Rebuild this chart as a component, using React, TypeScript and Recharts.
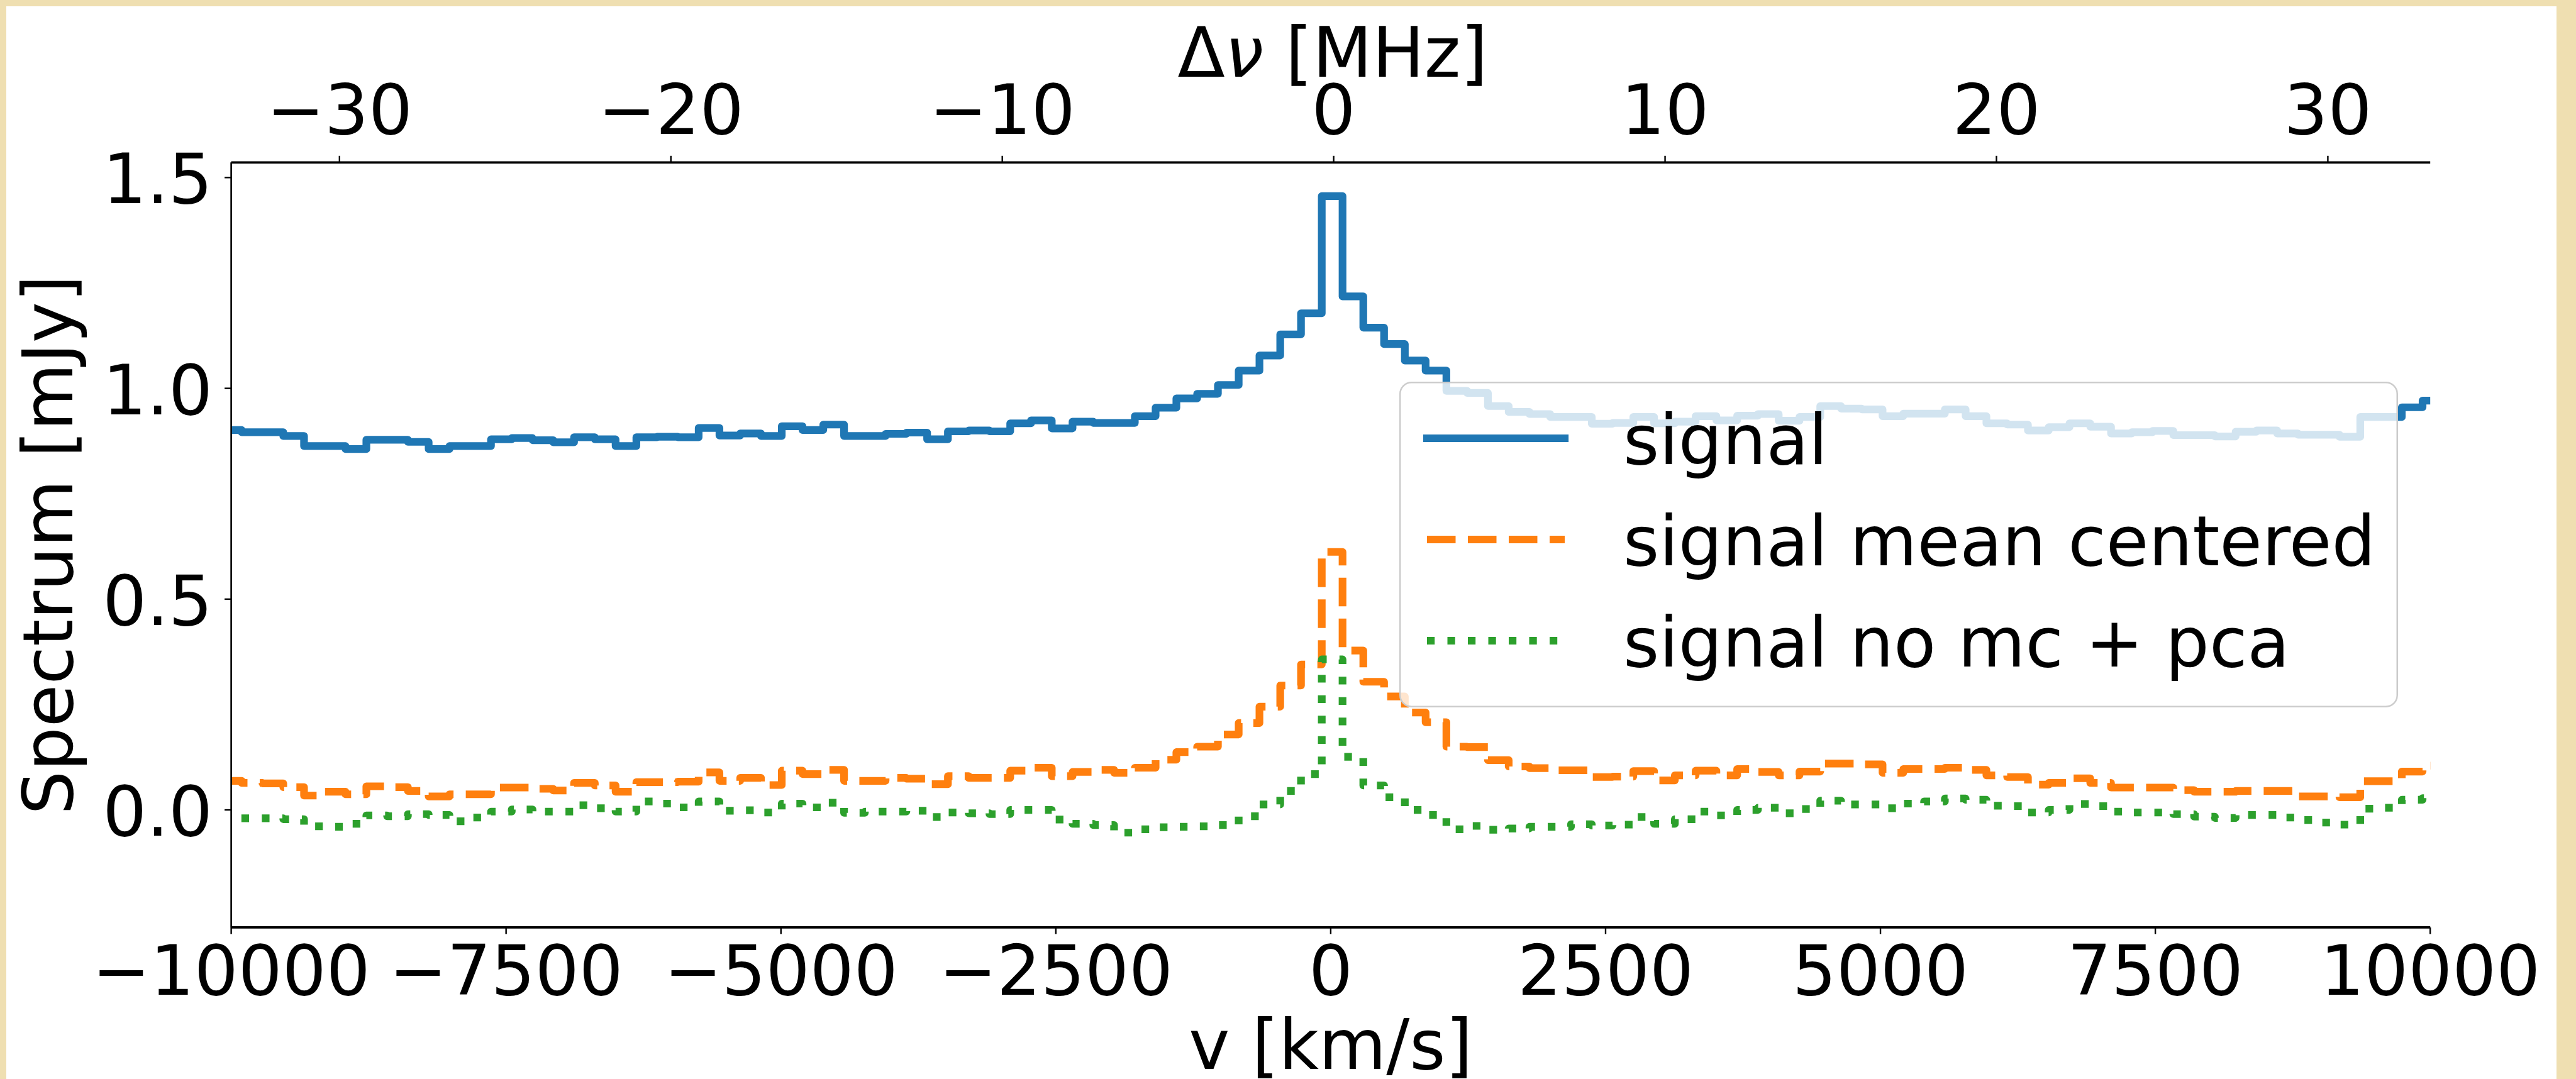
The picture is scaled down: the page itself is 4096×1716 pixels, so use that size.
import { Line, LineChart, XAxis, YAxis } from "recharts";

// channel grid (km/s): left edge of the first channel and the channel width
const BIN_START = -10093;
const BIN_WIDTH = 188.9;

// one value per channel, left to right
const SIGNAL = [
  0.901, 0.896, 0.896, 0.887, 0.863, 0.863, 0.856, 0.878, 0.878, 0.873,
  0.856, 0.863, 0.863, 0.879, 0.882, 0.877, 0.872, 0.884, 0.879, 0.863,
  0.884, 0.885, 0.884, 0.906, 0.888, 0.893, 0.887, 0.91, 0.901, 0.914,
  0.887, 0.887, 0.892, 0.895, 0.879, 0.898, 0.9, 0.898, 0.917, 0.924,
  0.905, 0.921, 0.918, 0.918, 0.934, 0.954, 0.976, 0.987, 1.008, 1.042,
  1.078, 1.128, 1.178, 1.456, 1.218, 1.144, 1.105, 1.066, 1.042, 0.994,
  0.989, 0.958, 0.944, 0.939, 0.932, 0.932, 0.916, 0.918, 0.932, 0.917,
  0.921, 0.934, 0.924, 0.935, 0.939, 0.923, 0.932, 0.958, 0.952, 0.95,
  0.934, 0.94, 0.94, 0.95, 0.934, 0.917, 0.914, 0.9, 0.908, 0.917,
  0.909, 0.893, 0.896, 0.899, 0.889, 0.889, 0.886, 0.897, 0.9, 0.893,
  0.89, 0.89, 0.885, 0.932, 0.932, 0.955, 0.971,
];

const MEAN_CENTERED = [
  0.069, 0.064, 0.063, 0.054, 0.034, 0.043, 0.037, 0.056, 0.054, 0.045,
  0.032, 0.037, 0.037, 0.053, 0.053, 0.05, 0.046, 0.064, 0.058, 0.043,
  0.066, 0.066, 0.067, 0.089, 0.069, 0.076, 0.059, 0.093, 0.085, 0.095,
  0.069, 0.069, 0.076, 0.074, 0.061, 0.08, 0.076, 0.076, 0.093, 0.1,
  0.08, 0.09, 0.095, 0.088, 0.1, 0.119, 0.137, 0.15, 0.179, 0.206,
  0.245, 0.295, 0.345, 0.612, 0.378, 0.304, 0.269, 0.231, 0.208, 0.15,
  0.149, 0.118, 0.103, 0.099, 0.094, 0.094, 0.078, 0.079, 0.092, 0.07,
  0.082, 0.093, 0.082, 0.097, 0.09, 0.082, 0.091, 0.11, 0.11, 0.108,
  0.088, 0.097, 0.097, 0.1, 0.095, 0.082, 0.078, 0.06, 0.064, 0.075,
  0.064, 0.053, 0.053, 0.053, 0.047, 0.043, 0.043, 0.045, 0.045, 0.045,
  0.032, 0.032, 0.03, 0.068, 0.068, 0.091, 0.105,
];

const NO_MC_PCA = [
  -0.02, -0.02, -0.02, -0.022, -0.039, -0.04, -0.033, -0.013, -0.015, -0.01,
  -0.012, -0.027, -0.018, -0.004, 0.001, -0.004, -0.004, 0.011, 0.004, -0.004,
  0.02, 0.015, 0.006, 0.02, -0.002, -0.001, -0.006, 0.015, 0.006, 0.017,
  -0.007, -0.004, -0.004, -0.002, -0.017, -0.006, -0.008, -0.01, 0.0, 0.0,
  -0.023, -0.033, -0.036, -0.054, -0.046, -0.041, -0.04, -0.039, -0.036, -0.015,
  0.013, 0.045, 0.085, 0.357, 0.126, 0.058, 0.03, 0.0, -0.012, -0.046,
  -0.038, -0.047, -0.044, -0.04, -0.04, -0.034, -0.037, -0.035, -0.017, -0.033,
  -0.022, -0.004, -0.013, 0.0, 0.005, -0.008, 0.002, 0.022, 0.013, 0.013,
  0.004, 0.015, 0.02, 0.027, 0.024, 0.01, 0.009, -0.006, 0.0, 0.014,
  0.009, -0.004, -0.006, -0.006, -0.01, -0.016, -0.019, -0.012, -0.012, -0.018,
  -0.024, -0.03, -0.035, 0.003, 0.005, 0.024, 0.028,
];

const V_TICKS = [-10000, -7500, -5000, -2500, 0, 2500, 5000, 7500, 10000];
const MHZ_TICKS = [-30, -20, -10, 0, 10, 20, 30];
const Y_TICKS = [0, 0.5, 1, 1.5];
const KMS_PER_MHZ = 301.4;
const MHZ_ZERO_KMS = 27;

const SERIES = [
  { key: "signal", label: "signal", color: "#1f77b4", dash: undefined },
  { key: "mc", label: "signal mean centered", color: "#ff7f0e", dash: "45.5 19.5" },
  { key: "pca", label: "signal no mc + pca", color: "#2ca02c", dash: "12.2 20.3" },
];

const rows = SIGNAL.map((s, i) => ({
  v: BIN_START + i * BIN_WIDTH,
  signal: s,
  mc: MEAN_CENTERED[i],
  pca: NO_MC_PCA[i],
}));
// close the last channel at its right edge
rows.push({ ...rows[rows.length - 1], v: BIN_START + SIGNAL.length * BIN_WIDTH });

const FONT = { fontFamily: "DejaVu Sans", fontSize: 110, fill: "#000" };
const X_DOMAIN = [-10000, 10000];
const Y_DOMAIN = [-0.2787, 1.5359];
const LW = 12.2;

const minus = (n: number) => (n < 0 ? `\u2212${Math.abs(n)}` : `${n}`);

const BottomTick = ({ x, y, payload }: any) => (
  <text x={x} y={y + 97} textAnchor="middle" {...FONT}>
    {minus(payload.value)}
  </text>
);

const TopTick = ({ x, y, payload }: any) => (
  <text x={x} y={y - 35} textAnchor="middle" {...FONT}>
    {minus(Math.round((payload.value - MHZ_ZERO_KMS) / KMS_PER_MHZ))}
  </text>
);

const LeftTick = ({ x, y, payload }: any) => (
  <text x={x - 19} y={y + 41} textAnchor="end" {...FONT}>
    {payload.value.toFixed(1)}
  </text>
);

const BottomTitle = ({ viewBox }: any) => (
  <text x={viewBox.x + viewBox.width / 2} y={viewBox.y + 225} textAnchor="middle" {...FONT}>
    v [km/s]
  </text>
);

const TopTitle = ({ viewBox }: any) => (
  <text x={viewBox.x + viewBox.width / 2 + 3} y={122} textAnchor="middle" {...FONT}>
    <tspan>Δ</tspan>
    <tspan fontStyle="italic">ν</tspan>
    <tspan> [MHz]</tspan>
  </text>
);

const LeftTitle = ({ viewBox }: any) => {
  const cx = 115;
  const cy = viewBox.y + viewBox.height / 2;
  return (
    <text x={cx} y={cy} transform={`rotate(-90, ${cx}, ${cy})`} textAnchor="middle" {...FONT}>
      Spectrum [mJy]
    </text>
  );
};

// top and bottom spines are drawn twice in the original (twin axes), so heavier
const hLine = { stroke: "#000", strokeWidth: 3.8 };
const vLine = { stroke: "#000", strokeWidth: 2.6 };
const tickLine = { stroke: "#000", strokeWidth: 2.4 };

function LegendBox() {
  const w = 1588;
  const h = 518;
  return (
    <svg
      width={w}
      height={h}
      style={{ position: "absolute", left: 2225, top: 607 }}
    >
      <rect
        x={1.25}
        y={1.25}
        width={w - 2.5}
        height={h - 2.5}
        rx={18}
        fill="#fff"
        fillOpacity={0.8}
        stroke="#cccccc"
        strokeWidth={2.5}
      />
      {SERIES.map((s, i) => {
        const y = 90 + i * 161;
        return (
          <g key={s.key}>
            <line
              x1={44}
              x2={263}
              y1={y}
              y2={y}
              stroke={s.color}
              strokeWidth={LW}
              strokeDasharray={s.dash}
              strokeLinecap={s.dash ? "butt" : "square"}
            />
            <text x={356} y={y + 41} {...FONT}>
              {s.label}
            </text>
          </g>
        );
      })}
    </svg>
  );
}

export default function App() {
  return (
    <div
      style={{
        position: "absolute",
        left: 0,
        top: 0,
        width: 4096,
        height: 1716,
        background: "#efdfb1",
        overflow: "hidden",
      }}
    >
      <div
        style={{
          position: "absolute",
          left: 10,
          top: 10,
          width: 4055,
          height: 1706,
          background: "#fff",
        }}
      />
      <div style={{ position: "absolute", left: 0, top: 0 }}>
        <LineChart
          width={4096}
          height={1716}
          data={rows}
          margin={{ top: 0, right: 231.8, bottom: 0, left: 67.6 }}
        >
          <XAxis
            xAxisId="bottom"
            dataKey="v"
            type="number"
            domain={X_DOMAIN}
            allowDataOverflow
            ticks={V_TICKS}
            interval={0}
            height={241.1}
            tickSize={10.5}
            tickMargin={0}
            tick={BottomTick}
            tickLine={tickLine}
            axisLine={hLine}
            label={BottomTitle}
          />
          <XAxis
            xAxisId="top"
            orientation="top"
            dataKey="v"
            type="number"
            domain={X_DOMAIN}
            allowDataOverflow
            ticks={MHZ_TICKS.map((m) => MHZ_ZERO_KMS + m * KMS_PER_MHZ)}
            interval={0}
            height={258.3}
            tickSize={10.5}
            tickMargin={0}
            tick={TopTick}
            tickLine={tickLine}
            axisLine={hLine}
            label={TopTitle}
          />
          <YAxis
            yAxisId="left"
            type="number"
            domain={Y_DOMAIN}
            allowDataOverflow
            ticks={Y_TICKS}
            interval={0}
            width={300}
            tickSize={10.5}
            tickMargin={0}
            tick={LeftTick}
            tickLine={tickLine}
            axisLine={vLine}
            label={LeftTitle}
          />
          <YAxis
            yAxisId="right"
            orientation="right"
            type="number"
            domain={Y_DOMAIN}
            allowDataOverflow
            width={0}
            tick={false}
            tickLine={false}
            axisLine={vLine}
          />
          <Line
            xAxisId="bottom"
            yAxisId="left"
            dataKey="signal"
            type="stepAfter"
            stroke="#1f77b4"
            strokeWidth={LW}
            strokeLinejoin="round"
            dot={false}
            activeDot={false}
            isAnimationActive={false}
          />
          <Line
            xAxisId="top"
            yAxisId="left"
            dataKey="mc"
            type="stepAfter"
            stroke="#ff7f0e"
            strokeWidth={LW}
            strokeDasharray="45.5 19.5"
            strokeLinejoin="round"
            dot={false}
            activeDot={false}
            isAnimationActive={false}
          />
          <Line
            xAxisId="bottom"
            yAxisId="right"
            dataKey="pca"
            type="stepAfter"
            stroke="#2ca02c"
            strokeWidth={LW}
            strokeDasharray="12.2 20.3"
            strokeLinejoin="round"
            dot={false}
            activeDot={false}
            isAnimationActive={false}
          />
        </LineChart>
      </div>
      <LegendBox />
    </div>
  );
}
